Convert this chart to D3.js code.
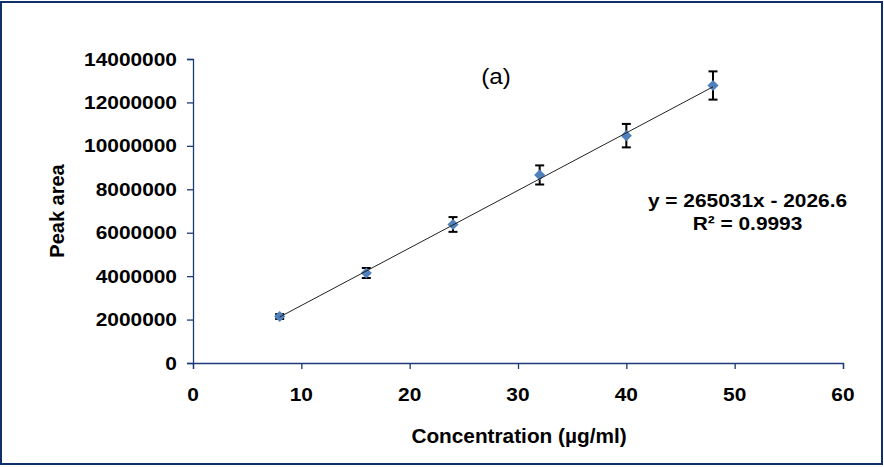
<!DOCTYPE html>
<html>
<head>
<meta charset="utf-8">
<script src="https://cdn.jsdelivr.net/npm/d3@7"></script>
<style>
  body { margin: 0; background: #fff; }
  svg text { font-family: "Liberation Sans", Arial, sans-serif; fill: #000; }
</style>
</head>
<body>
<svg id="chart" width="884" height="467"></svg>
<script>
// data
const conc = [8, 16, 24, 32, 40, 48];
const peakArea = [2140000, 4145000, 6380000, 8660000, 10470000, 12780000];
const errSD = [110000, 230000, 340000, 440000, 540000, 650000];
const xTicks = [0, 10, 20, 30, 40, 50, 60];
const yTicks = [0, 2000000, 4000000, 6000000, 8000000, 10000000, 12000000, 14000000];
const slope = 265031, intercept = -2026.6;
const eqText = "y = 265031x - 2026.6";
const r2Text = "R\u00b2 = 0.9993";

const svg = d3.select('#chart');
const axisCol = '#1c3a78';

// outer frame
svg.append('rect')
  .attr('x', 1).attr('y', 2).attr('width', 881).attr('height', 462)
  .attr('fill', '#fff').attr('stroke', '#10306a').attr('stroke-width', 2);

const x = d3.scaleLinear().domain([0, 60]).range([193, 843]);
const y = d3.scaleLinear().domain([0, 14000000]).range([363, 59]);

// text helper, sx widens the glyphs a little like in the original
function label(g, tx, ty, txt, size, sx, anchor, weight, rot) {
  return g.append('text')
    .attr('transform', `translate(${tx},${ty}) scale(${sx},1)` + (rot ? ` rotate(${rot})` : ''))
    .attr('text-anchor', anchor)
    .style('font-size', size + 'px')
    .style('font-weight', weight)
    .text(txt);
}

// axes
const xAxis = svg.append('g').attr('transform', 'translate(0,363)')
  .call(d3.axisBottom(x).tickValues(xTicks).tickSize(6).tickFormat(''));
const yAxis = svg.append('g').attr('transform', 'translate(193,0)')
  .call(d3.axisLeft(y).tickValues(yTicks).tickSize(6).tickFormat(''));
[xAxis, yAxis].forEach(a => {
  a.selectAll('path').attr('stroke', axisCol).attr('stroke-width', 1.3);
  a.selectAll('line').attr('stroke', axisCol).attr('stroke-width', 1.3);
});

const labels = svg.append('g');
yTicks.forEach(v => label(labels, 177, y(v) + 6.5, v, 19, 1.1, 'end', 'bold'));
xTicks.forEach(v => label(labels, x(v), 401, v, 19, 1.1, 'middle', 'bold'));

label(labels, 519, 443, 'Concentration (\u00b5g/ml)', 20, 1.04, 'middle', 'bold');
label(labels, 64, 211, 'Peak area', 20, 1, 'middle', 'bold', -90);

// error bars
const eb = svg.append('g').attr('stroke', '#000').attr('stroke-width', 2);
conc.forEach((c, i) => {
  const top = y(peakArea[i] + errSD[i]), bot = y(peakArea[i] - errSD[i]);
  eb.append('line').attr('x1', x(c)).attr('x2', x(c)).attr('y1', top).attr('y2', bot);
  eb.append('line').attr('x1', x(c) - 4.5).attr('x2', x(c) + 4.5).attr('y1', top).attr('y2', top);
  eb.append('line').attr('x1', x(c) - 4.5).attr('x2', x(c) + 4.5).attr('y1', bot).attr('y2', bot);
});

// markers
svg.append('g').selectAll('path')
  .data(conc)
  .join('path')
  .attr('d', d3.symbol().type(d3.symbolSquare).size(62))
  .attr('transform', (d, i) => `translate(${x(d)},${y(peakArea[i])}) rotate(45)`)
  .attr('fill', '#4f81bd');

// linear trendline
const xr = d3.extent(conc);
svg.append('line')
  .attr('x1', x(xr[0])).attr('y1', y(slope * xr[0] + intercept))
  .attr('x2', x(xr[1])).attr('y2', y(slope * xr[1] + intercept))
  .attr('stroke', '#222').attr('stroke-width', 1);

// annotations
label(labels, 496, 84, '(a)', 22, 1.1, 'middle', 'normal');
label(labels, 747.5, 207, eqText, 18.5, 1.13, 'middle', 'bold');
label(labels, 747.5, 230, r2Text, 18.5, 1.13, 'middle', 'bold');
</script>
</body>
</html>
